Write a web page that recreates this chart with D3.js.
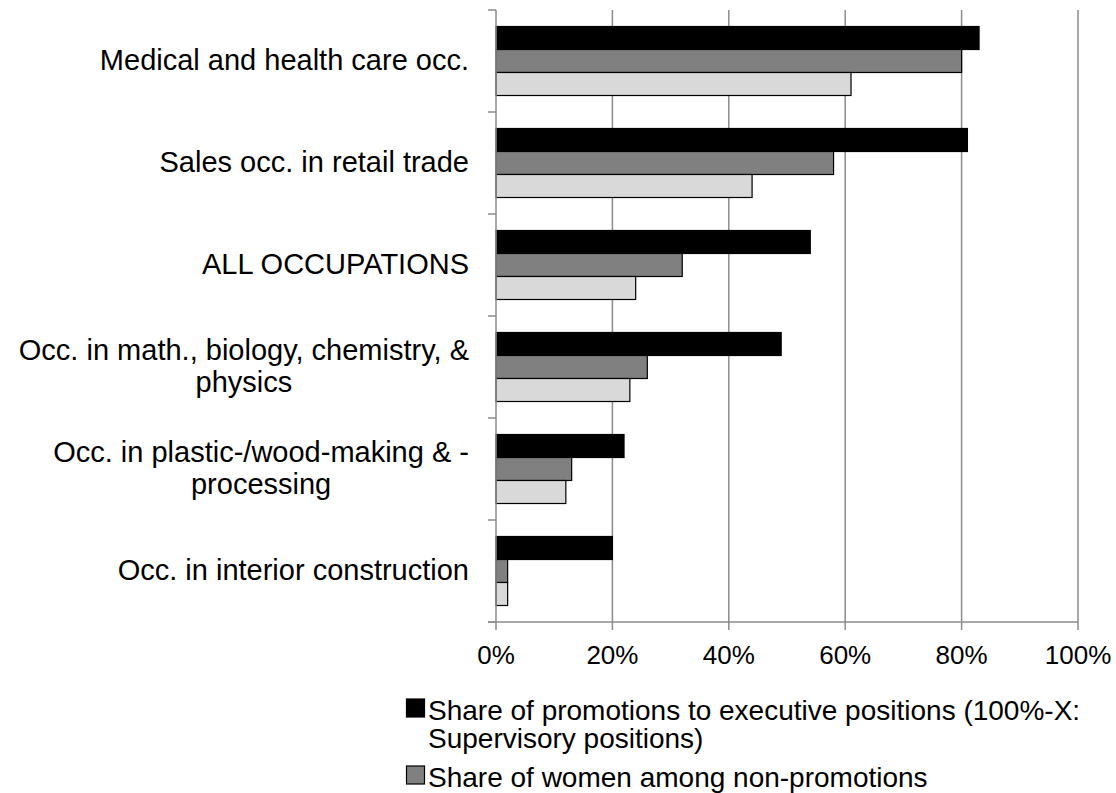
<!DOCTYPE html>
<html>
<head>
<meta charset="utf-8">
<script src="https://cdn.jsdelivr.net/npm/d3@7/dist/d3.min.js"></script>
<style>
  html, body { margin: 0; padding: 0; background: #fff; overflow: hidden; }
  svg { display: block; }
  text { font-family: Arial, "Liberation Sans", sans-serif; fill: #000; }
</style>
</head>
<body>
<svg id="chart" width="1116" height="793"></svg>
<script>
// ---- data ----
const categories = [
  "Medical and health care occ.",
  "Sales occ. in retail trade",
  "ALL OCCUPATIONS",
  "Occ. in math., biology, chemistry, &\nphysics",
  "Occ. in plastic-/wood-making & -\nprocessing",
  "Occ. in interior construction"
];
const seriesNames = [
  "Share of promotions to executive positions (100%-X:\nSupervisory positions)",
  "Share of women among non-promotions",
  "Share of women among promotions"
];
const promotionsExecutive = [0.83, 0.81, 0.54, 0.49, 0.22, 0.20];
const womenNonPromotions  = [0.80, 0.58, 0.32, 0.26, 0.13, 0.02];
const womenPromotions     = [0.61, 0.44, 0.24, 0.23, 0.12, 0.02];
const xTickValues = [0, 0.2, 0.4, 0.6, 0.8, 1.0];
const seriesColors = ["#000000", "#808080", "#d9d9d9"];

const seriesValues = [promotionsExecutive, womenNonPromotions, womenPromotions];

// ---- layout ----
const W = 1116, H = 793;
const svg = d3.select("#chart");
const plot = { left: 496, right: 1078, top: 10, bottom: 622 };
const gridColor = "#8c8c8c";

const x = d3.scaleLinear().domain([0, 1]).range([plot.left, plot.right]);
const y = d3.scaleBand().domain(categories).range([plot.top, plot.bottom])
  .paddingInner(0.3235).paddingOuter(0.3235 / 2);
const ySub = d3.scaleBand().domain(d3.range(seriesNames.length)).range([0, y.bandwidth()]);

// gridlines
svg.append("g").selectAll("line").data(xTickValues.slice(1)).join("line")
  .attr("x1", d => x(d)).attr("x2", d => x(d))
  .attr("y1", plot.top).attr("y2", plot.bottom)
  .attr("stroke", gridColor).attr("stroke-width", 1.5);

// bars
const groups = svg.append("g").selectAll("g").data(categories).join("g")
  .attr("transform", d => `translate(0,${y(d)})`);
groups.selectAll("rect")
  .data((c, ci) => seriesValues.map((vals, si) => ({ si, v: vals[ci] })))
  .join("rect")
  .attr("x", x(0))
  .attr("y", d => ySub(d.si))
  .attr("width", d => x(d.v) - x(0))
  .attr("height", ySub.bandwidth())
  .attr("fill", d => seriesColors[d.si])
  .attr("stroke", "#000").attr("stroke-width", 1.2);

// y axis
const yAxisG = svg.append("g");
yAxisG.append("line")
  .attr("x1", plot.left).attr("x2", plot.left)
  .attr("y1", plot.top).attr("y2", plot.bottom)
  .attr("stroke", gridColor).attr("stroke-width", 1.5);
const yTickPos = categories.map(c => y(c) - y.step() * y.paddingInner() / 2).concat([plot.bottom]);
yAxisG.selectAll("line.tk").data(yTickPos).join("line").attr("class", "tk")
  .attr("x1", plot.left - 8).attr("x2", plot.left)
  .attr("y1", d => d).attr("y2", d => d)
  .attr("stroke", gridColor).attr("stroke-width", 1.5);

// category labels
const labelRight = 469;
const catFont = 29;
const lineH = 32.5;
categories.forEach(c => {
  const lines = c.split("\n");
  const cy = y(c) + y.bandwidth() / 2;
  const t = svg.append("text").attr("font-size", catFont).attr("text-anchor", "end");
  const tspans = lines.map((ln, i) => t.append("tspan")
    .attr("y", cy + catFont * 0.31 + (i - (lines.length - 1) / 2) * lineH)
    .text(ln));
  if (lines.length > 1) {
    const w0 = tspans[0].node().getComputedTextLength();
    const cx = labelRight - w0 / 2;
    t.attr("text-anchor", "middle");
    tspans.forEach(ts => ts.attr("x", cx));
  } else {
    tspans[0].attr("x", labelRight);
  }
});

// x axis
const xAxisG = svg.append("g");
xAxisG.append("line")
  .attr("x1", plot.left - 8).attr("x2", plot.right)
  .attr("y1", plot.bottom).attr("y2", plot.bottom)
  .attr("stroke", gridColor).attr("stroke-width", 1.5);
xAxisG.selectAll("line.tk").data(xTickValues).join("line").attr("class", "tk")
  .attr("x1", d => x(d)).attr("x2", d => x(d))
  .attr("y1", plot.bottom).attr("y2", plot.bottom + 8)
  .attr("stroke", gridColor).attr("stroke-width", 1.5);
xAxisG.selectAll("text").data(xTickValues).join("text")
  .attr("x", d => x(d)).attr("y", 664)
  .attr("text-anchor", "middle").attr("font-size", 26)
  .text(d3.format(".0%"));

// legend (items that fall below the picture's edge are left out, as in the reference)
const legFont = 28;
const legLine = 28;
const legend = svg.append("g");
let ly = 699;
seriesNames.forEach((name, i) => {
  const lines = name.split("\n");
  if (ly + 19 > H) return;
  legend.append("rect")
    .attr("x", 406.5).attr("y", ly).attr("width", 18).attr("height", 18)
    .attr("fill", seriesColors[i]).attr("stroke", "#000").attr("stroke-width", 1.2);
  const t = legend.append("text").attr("font-size", legFont);
  lines.forEach((ln, j) => t.append("tspan").attr("x", 428).attr("y", ly + 21 + j * legLine).text(ln));
  ly += (lines.length - 1) * legLine + 39;
});
</script>
</body>
</html>
